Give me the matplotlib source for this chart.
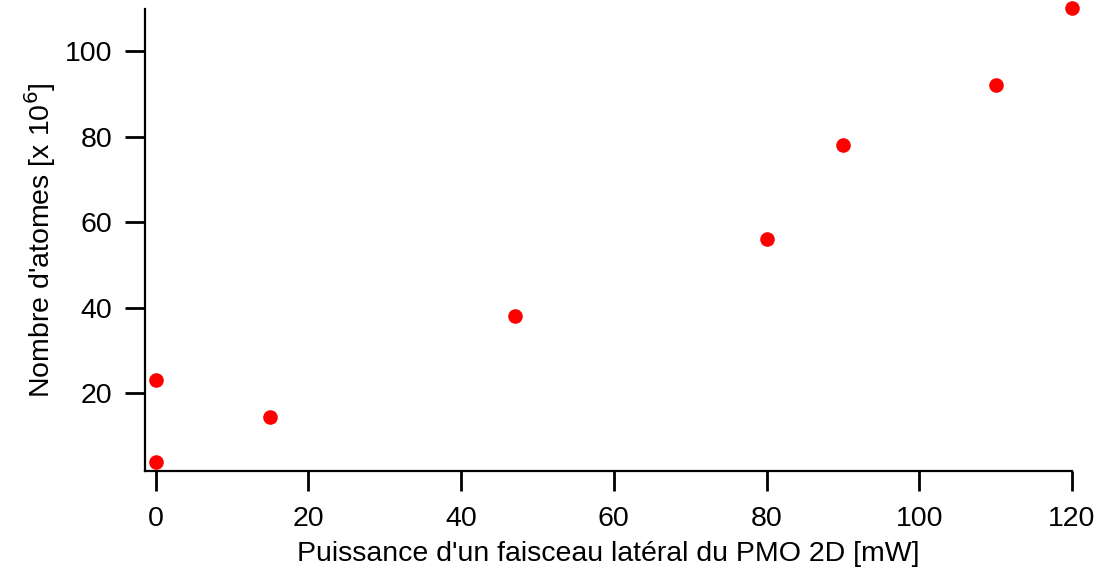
import matplotlib
matplotlib.use("Agg")
from matplotlib import pyplot as plt

plt.rcParams['font.family'] = ['Liberation Sans', 'DejaVu Sans']

# puissance [mW] et nombre d'atomes [x 10^6]
puissance = [0, 0, 15, 47, 80, 90, 110, 120]
atomes = [23, 4, 14.5, 38, 56, 78, 92, 110]

xticks = [0, 20, 40, 60, 80, 100, 120]
yticks = [20, 40, 60, 80, 100]

fig = plt.figure(figsize=(11.02, 5.75), dpi=100)
ax = fig.add_axes([145 / 1102, 1 - 471 / 575, (1072 - 145) / 1102, (471 - 9) / 575])

ax.plot(puissance, atomes, 'o', color='#ff0000', ms=10.5, mec='none', clip_on=False)

ax.set_xlim(-1.4, 120)
ax.set_ylim(1.85, 109.8)
ax.set_xticks(xticks)
ax.set_yticks(yticks)

for s in ['top', 'right']:
    ax.spines[s].set_visible(False)
for s in ['left', 'bottom']:
    ax.spines[s].set_linewidth(1.6)

ax.tick_params(axis='both', direction='out', length=14.4, width=2, labelsize=20.5)
ax.tick_params(axis='x', pad=11)
ax.tick_params(axis='y', pad=9)

ax.set_xlabel("Puissance d'un faisceau latéral du PMO 2D [mW]", fontsize=20.5, labelpad=6)
ax.set_ylabel("Nombre d'atomes [x 10$^{6}$]", fontsize=20.5, labelpad=5)

fig.savefig("out.png", dpi=100)
